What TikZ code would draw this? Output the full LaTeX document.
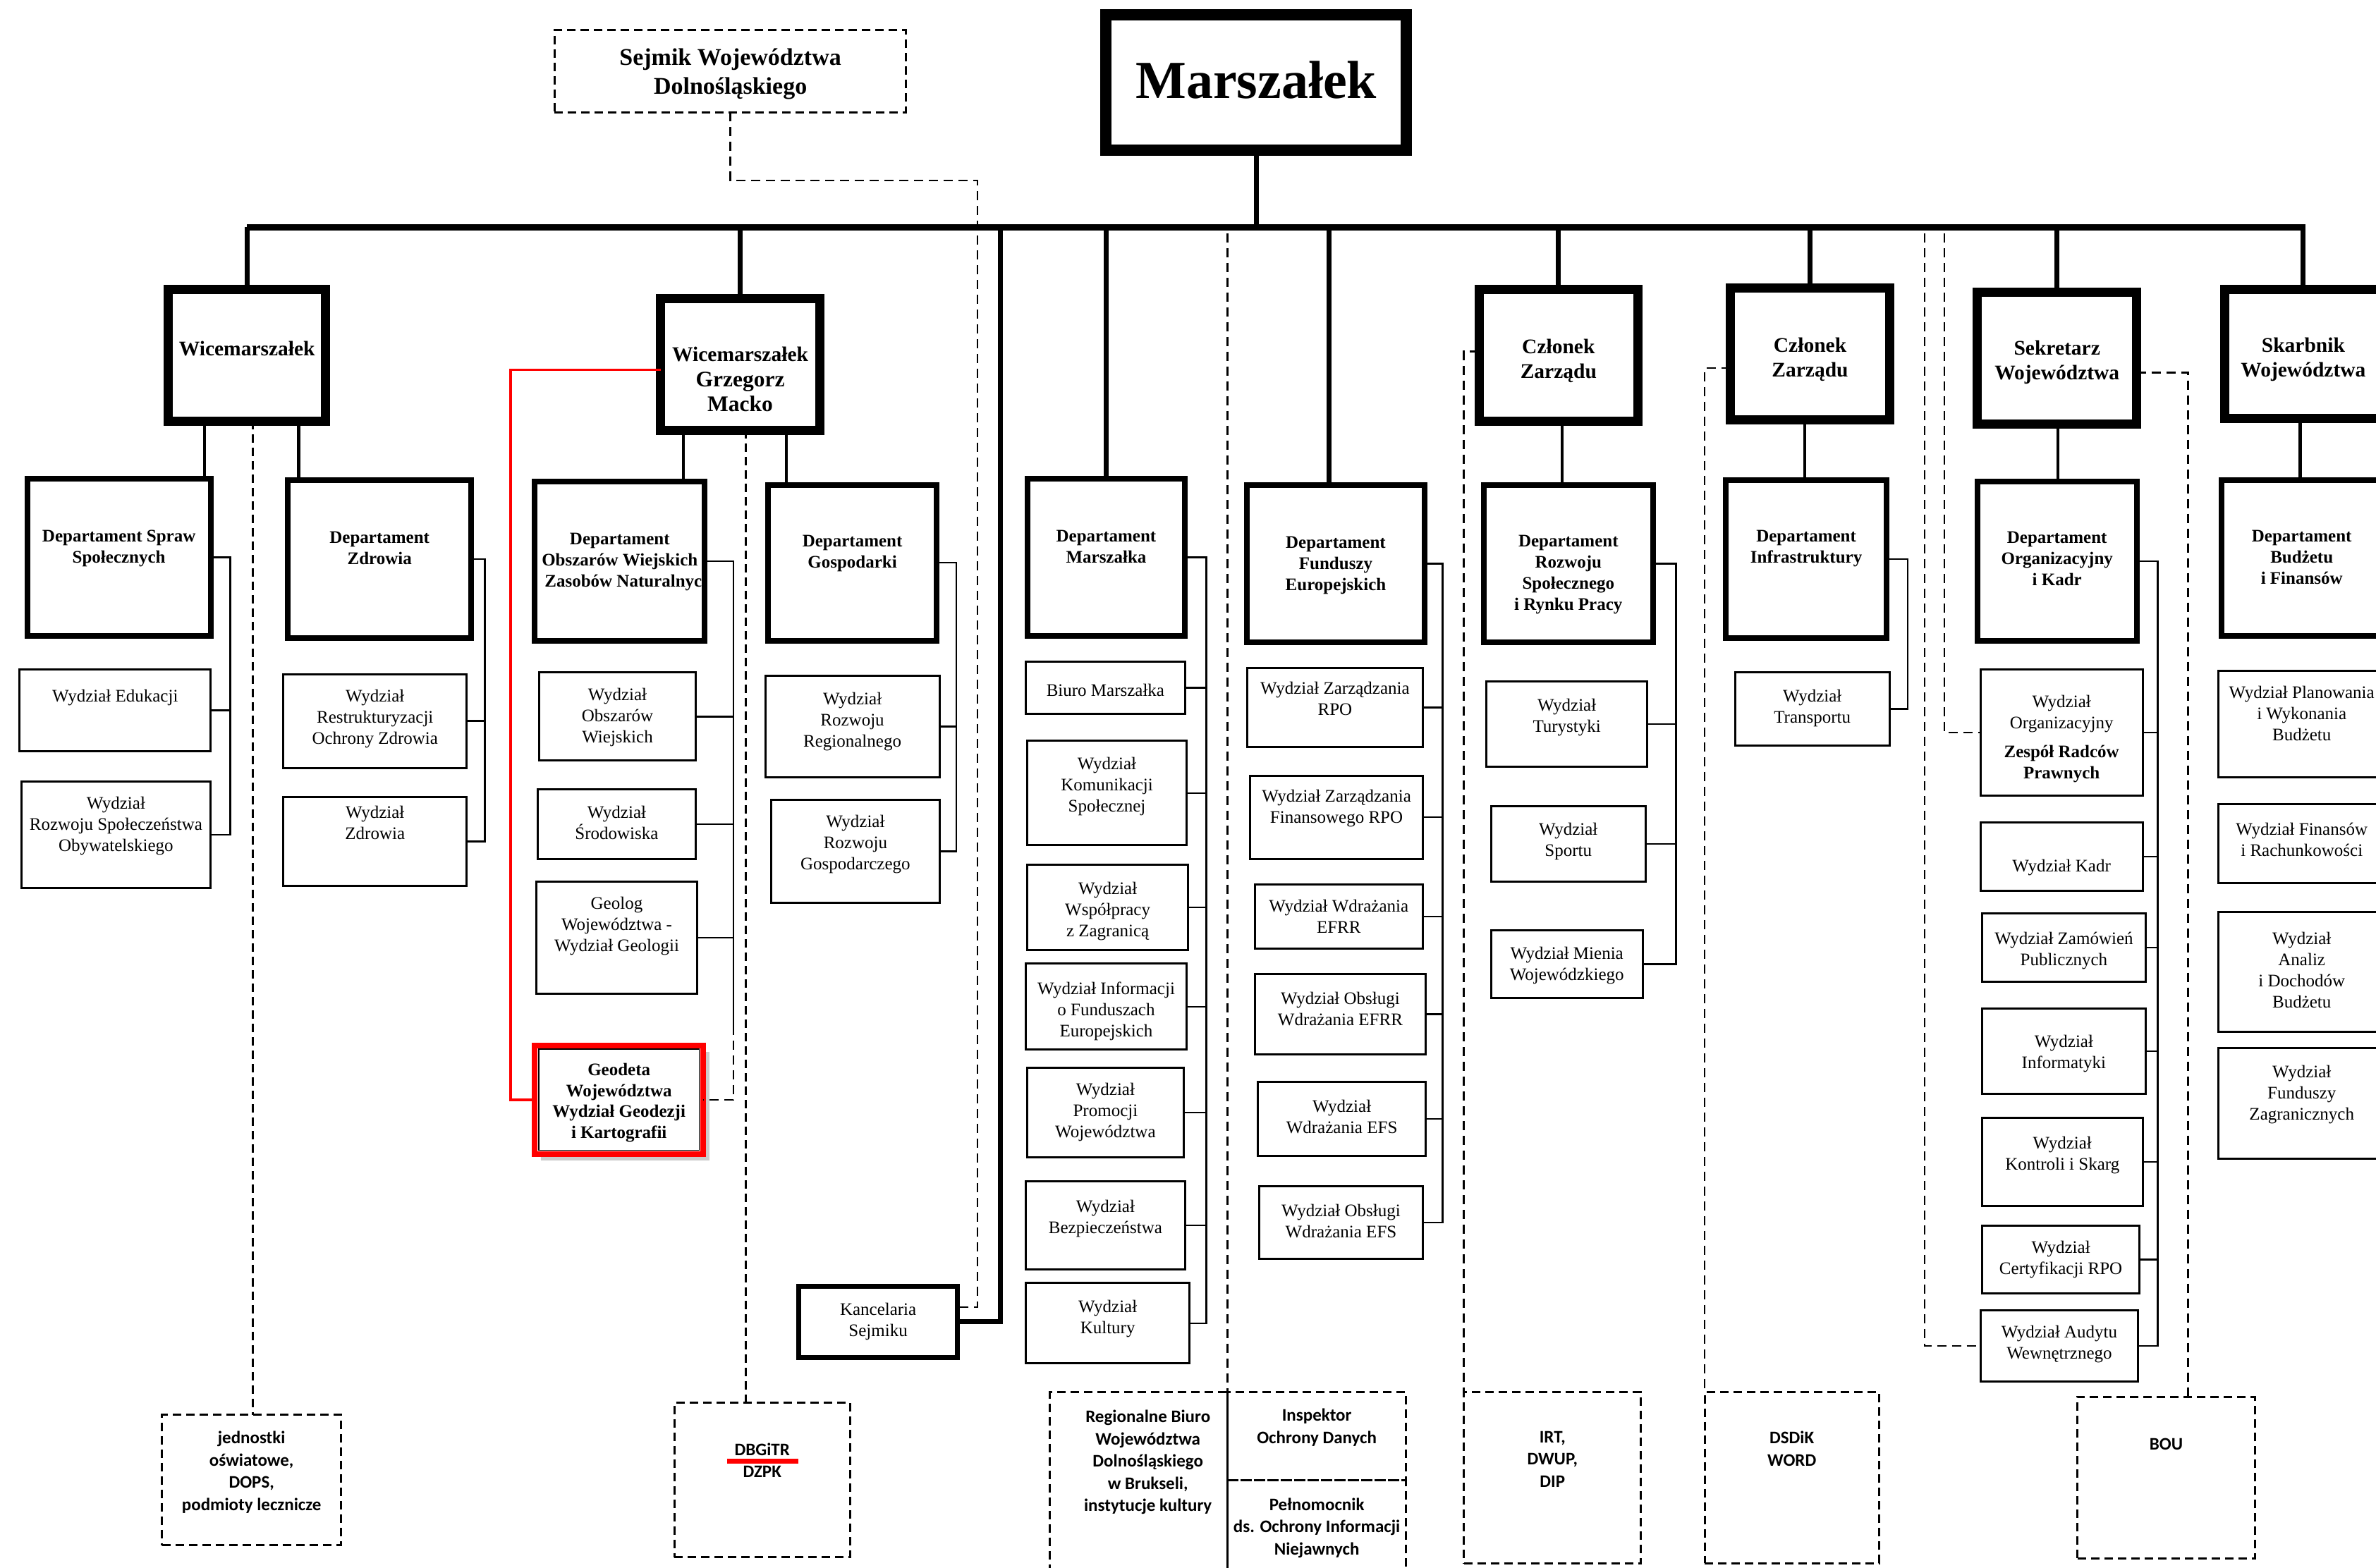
\documentclass[tikz,border=0pt]{standalone}
\usepackage{fontspec}
\setmainfont{Liberation Serif}
\newfontfamily\calfont{Carlito}
\usetikzlibrary{calc,fit,shadows}
\newcommand\sv{\rule{0pt}{.8em}}
\newcommand\obox[9]{\node[#2,fit={(#3,#4) (#5,#6)}] (#1) {};\node[#7] (#1t) at ({(#3+#5)/2},#8) {#9};}
\tikzset{
 box/.style={draw, inner sep=0pt, outer sep=0pt, fill=white},
 tlbox/.style={box, line width=13pt},
 mbox/.style={box, line width=16pt},
 depbox/.style={box, line width=8pt},
 wbox/.style={box, line width=3pt},
 kbox/.style={box, line width=7pt},
 dbox/.style={draw, inner sep=0pt, outer sep=0pt, line width=3pt, dash pattern=on 12pt off 7pt},
 geobox/.style={box, draw=red, line width=8pt, drop shadow={shadow xshift=9pt, shadow yshift=-9pt, fill=black!40}},
 txt/.style={anchor=north, inner sep=0pt, align=center, execute at begin node=\sv},
 tT/.style={txt, font=\fontsize{29.5}{34.5}\selectfont\bfseries, yshift=10.9pt},
 tSj/.style={txt, font=\fontsize{34}{41}\selectfont\bfseries, yshift=12.5pt},
 tD/.style={txt, font=\fontsize{25}{30}\selectfont\bfseries, yshift=8.5pt},
 tW/.style={txt, font=\fontsize{25}{30}\selectfont, yshift=8.5pt},
 tS/.style={txt, font=\calfont\fontsize{25}{31.5}\selectfont\bfseries, yshift=9pt},
 bus/.style={line width=9pt},
 drop/.style={line width=7pt},
 sdrop/.style={line width=4.5pt},
 conn/.style={line width=2.5pt},
 dsh/.style={line width=3pt, dash pattern=on 12pt off 7pt},
 dsh2/.style={line width=2.3pt, dash pattern=on 13pt off 8pt},
 redl/.style={red, line width=3.5pt},
}
\begin{document}
\begin{tikzpicture}[x=2.1486pt, y=-2.1486pt]
\useasboundingbox (0,0) rectangle (1568,1035);

% ---------- top ----------
\obox{sejmik}{dbox}{366}{20}{598}{74}{tSj}{38}{Sejmik Województwa\\Dolnośląskiego}
\node[mbox, fit={(730,10) (928,99)}] (marsz) {};
\node[font=\fontsize{76}{80}\selectfont\bfseries, inner sep=0pt] (marszt) at (829,53) {Marszałek};

\obox{wm1}{tlbox}{111}{191}{215}{278}{tT}{229}{Wicemarszałek}
\obox{wm2}{tlbox}{436}{197}{541}{284}{tT,font=\fontsize{31.5}{35.5}\selectfont\bfseries}{234}{{\fontsize{29.5}{35.5}\selectfont Wicemarszałek}\\Grzegorz\\Macko}
\obox{cz1}{tlbox}{976}{191}{1081}{278}{tT}{229}{Członek\\Zarządu}
\obox{cz2}{tlbox}{1142}{190}{1247}{277}{tT}{228}{Członek\\Zarządu}
\obox{sek}{tlbox}{1305}{193}{1410}{280}{tT}{230}{Sekretarz\\Województwa}
\obox{skb}{tlbox}{1468}{191}{1572}{276}{tT}{228}{Skarbnik\\Województwa}

% ---------- departments ----------
\obox{dss}{depbox}{18}{316}{139}{420}{tD}{354}{Departament Spraw\\Społecznych}
\obox{dz}{depbox}{190}{317}{311}{421}{tD}{355}{Departament\\Zdrowia}
\node[depbox, fit={(353,318) (465,423)}] (dow) {};
\begin{scope}
\clip (355.5,320) rectangle (463,421);
\node[tD] (dowt) at (409,356) {Departament\\Obszarów Wiejskich\\\hspace*{24pt}Zasobów Naturalnych};
\end{scope}
\obox{dg}{depbox}{507}{320}{618}{423}{tD}{357}{Departament\\Gospodarki}
\obox{dm}{depbox}{678}{316}{782}{420}{tD}{354}{Departament\\Marszałka}
\obox{dfe}{depbox}{823}{320}{940}{424}{tD}{358}{Departament\\Funduszy\\Europejskich}
\obox{drs}{depbox}{979}{320}{1091}{424}{tD}{357}{Departament\\Rozwoju\\Społecznego\\i Rynku Pracy}
\obox{dinf}{depbox}{1139}{317}{1245}{421}{tD}{354}{Departament\\Infrastruktury}
\obox{dok}{depbox}{1305}{318}{1410}{423}{tD}{355}{Departament\\Organizacyjny\\i Kadr}
\obox{dbf}{depbox}{1466}{317}{1572}{420}{tD}{354}{Departament\\Budżetu\\i Finansów}

% ---------- wydzialy ----------
\obox{we}{wbox}{13}{442}{139}{496}{tW}{458}{Wydział Edukacji}
\obox{wrso}{wbox}{14}{516}{139}{586}{tW}{530}{Wydział\\Rozwoju Społeczeństwa\\Obywatelskiego}
\obox{wroz}{wbox}{187}{445}{308}{507}{tW}{459}{Wydział\\Restrukturyzacji\\Ochrony Zdrowia}
\obox{wzd}{wbox}{187}{526}{308}{585}{tW}{536}{Wydział\\Zdrowia}

\obox{wow}{wbox}{356}{444}{459}{502}{tW}{458}{Wydział\\Obszarów\\Wiejskich}
\obox{wsr}{wbox}{355}{521}{459}{567}{tW}{536}{Wydział\\Środowiska}
\obox{wgeol}{wbox}{354}{582}{460}{656}{tW}{596}{Geolog\\Województwa -\\Wydział Geologii}
\node[geobox, fit={(353,690) (464,762)}] (geo) {};
\draw[line width=1.5pt] ($(geo.north west)+(2.6,2.6)$) rectangle ($(geo.south east)+(-2.6,-2.6)$);
\node[tD,font=\fontsize{25}{29.5}\selectfont\bfseries] (geot) at (408.5,706) {Geodeta\\Województwa\\Wydział Geodezji\\i Kartografii};

\obox{wrr}{wbox}{505}{446}{620}{513}{tW}{461}{Wydział\\Rozwoju\\Regionalnego}
\obox{wrg}{wbox}{509}{528}{620}{596}{tW}{542}{Wydział\\Rozwoju\\Gospodarczego}
\obox{kanc}{kbox}{527}{849}{632}{896}{tW}{864}{Kancelaria\\Sejmiku}

\obox{wbm}{wbox}{677}{437}{782}{471}{tW}{454}{Biuro Marszałka}
\obox{wks}{wbox}{678}{489}{783}{558}{tW}{504}{Wydział\\Komunikacji\\Społecznej}
\obox{wwz}{wbox}{678}{571}{784}{627}{tW}{586}{Wydział\\Współpracy\\z Zagranicą}
\obox{wife}{wbox}{677}{636}{783}{693}{tW}{652}{Wydział Informacji\\o Funduszach\\Europejskich}
\obox{wpw}{wbox}{678}{705}{781}{764}{tW}{719}{Wydział\\Promocji\\Województwa}
\obox{wb}{wbox}{677}{780}{782}{838}{tW}{796}{Wydział\\Bezpieczeństwa}
\obox{wk}{wbox}{677}{847}{785}{900}{tW}{862}{Wydział\\Kultury}

\obox{wzrpo}{wbox}{823}{441}{939}{493}{tW}{454}{Wydział Zarządzania\\RPO}
\obox{wzf}{wbox}{825}{512}{939}{567}{tW}{525}{Wydział Zarządzania\\Finansowego RPO}
\obox{wwefrr}{wbox}{828}{584}{939}{626}{tW}{598}{Wydział Wdrażania\\EFRR}
\obox{woefrr}{wbox}{828}{643}{941}{696}{tW}{659}{Wydział Obsługi\\Wdrażania EFRR}
\obox{wwefs}{wbox}{830}{714}{941}{763}{tW}{730}{Wydział\\Wdrażania EFS}
\obox{woefs}{wbox}{831}{783}{939}{831}{tW}{799}{Wydział Obsługi\\Wdrażania EFS}

\obox{wt}{wbox}{981}{450}{1087}{506}{tW}{465}{Wydział\\Turystyki}
\obox{wsp}{wbox}{984}{532}{1086}{582}{tW}{547}{Wydział\\Sportu}
\obox{wmw}{wbox}{984}{614}{1084}{659}{tW}{629}{Wydział Mienia\\Wojewódzkiego}

\obox{wtr}{wbox}{1145}{444}{1247}{492}{tW}{459}{Wydział\\Transportu}

\obox{worg}{wbox}{1307}{442}{1414}{525}{tW}{463}{Wydział\\Organizacyjny\\[11pt]{\bfseries Zespół Radców}\\{\bfseries Prawnych}}
\obox{wkadr}{wbox}{1307}{543}{1414}{588}{tW}{570}{Wydział Kadr}
\obox{wzp}{wbox}{1308}{603}{1416}{648}{tW}{619}{Wydział Zamówień\\Publicznych}
\obox{winf}{wbox}{1308}{666}{1416}{722}{tW}{687}{Wydział\\Informatyki}
\obox{wksk}{wbox}{1308}{738}{1414}{796}{tW}{754}{Wydział\\Kontroli i Skarg}
\obox{wcrpo}{wbox}{1308}{809}{1412}{854}{tW}{823}{Wydział\\Certyfikacji RPO}
\obox{waw}{wbox}{1307}{865}{1411}{912}{tW}{879}{Wydział Audytu\\Wewnętrznego}

\obox{wpwb}{wbox}{1464}{443}{1574}{513}{tW}{457}{Wydział Planowania\\i Wykonania\\Budżetu}
\obox{wfr}{wbox}{1464}{531}{1574}{583}{tW}{547}{Wydział Finansów\\i Rachunkowości}
\obox{wadb}{wbox}{1464}{602}{1574}{681}{tW}{619}{Wydział\\Analiz\\i Dochodów\\Budżetu}
\obox{wfz}{wbox}{1464}{692}{1574}{765}{tW}{707}{Wydział\\Funduszy\\Zagranicznych}

% ---------- dashed bottom boxes ----------
\obox{jedn}{dbox}{107}{934}{225}{1020}{tS}{949}{jednostki\\oświatowe,\\DOPS,\\podmioty lecznicze}
\obox{dbg}{dbox}{445}{926}{561}{1028}{tS,font=\calfont\fontsize{25}{30.5}\selectfont\bfseries}{957}{DBGiTR\\DZPK}
\draw[red, line width=6.5pt] (480,964.5) -- (527,964.5);
\obox{rbw}{dbox}{693}{919}{810}{1040}{tS,xshift=13pt}{935}{Regionalne Biuro\\Województwa\\Dolnośląskiego\\w Brukseli,\\instytucje kultury}
\obox{iod}{dbox}{810}{919}{928}{977}{tS}{934}{Inspektor\\Ochrony Danych}
\obox{pel}{dbox}{810}{977}{928}{1040}{tS}{993}{Pełnomocnik\\ds. Ochrony Informacji\\Niejawnych}
\obox{irt}{dbox}{966}{919}{1083}{1032}{tS}{949}{IRT,\\DWUP,\\DIP}
\obox{dsd}{dbox}{1125}{919}{1240}{1032}{tS}{949}{DSDiK\\WORD}
\obox{bou}{dbox}{1371}{922}{1488}{1029}{tS}{952}{BOU}

% ---------- coordinates ----------
\coordinate (busL) at (163,150);
\coordinate (busR) at (1521.5,150);
\coordinate (b660) at (660,150);
\coordinate (b877) at (877,150);
\coordinate (b810) at (810,154);
\coordinate (b1270) at (1270,154);
\coordinate (b1283) at (1283,154);
\foreach \n/\v in {x135/135,x197/197,x451/451,x519/519,x1031/1031,x1191/1191,x1358/1358,x1518/1518,x167/167,x492/492,S1/152,S2/320,S4/631,S5/796,S6/952,S7/1106,S8/1259,S9/1424}
  \coordinate (\n) at (\v,0);
\coordinate (S3e) at (484,677);
\coordinate (sj) at (645,119);
\coordinate (ky) at (0,863);
\coordinate (rc) at (337,244);
\coordinate (c1) at (966,232);
\coordinate (c2) at (1125,243);
\coordinate (sk) at (1444,246);

% ---------- main bus ----------
\draw[bus] (busL) -- (busR);
\draw[drop] (marsz.south) -- (marsz.south |- busL);
\foreach \n in {wm1,wm2,cz1,cz2,sek,skb,dm}
  \draw[drop] (\n.north) -- (\n.north |- busL);
\draw[drop] (dfe.north -| b877) -- (b877);
\draw[drop] (b660) |- (kanc.east);

% ---------- top-level to departments ----------
\draw[sdrop] (wm1.south -| x135) -- (dss.north -| x135);
\draw[sdrop] (wm1.south -| x197) -- (dz.north -| x197);
\draw[sdrop] (wm2.south -| x451) -- (dow.north -| x451);
\draw[sdrop] (wm2.south -| x519) -- (dg.north -| x519);
\draw[sdrop] (cz1.south -| x1031) -- (drs.north -| x1031);
\draw[sdrop] (cz2.south -| x1191) -- (dinf.north -| x1191);
\draw[sdrop] (sek.south -| x1358) -- (dok.north -| x1358);
\draw[sdrop] (skb.south -| x1518) -- (dbf.north -| x1518);

% ---------- spines ----------
\draw[conn] (dss.east) -| (S1 |- wrso.east) -- (wrso.east);
\draw[conn] (we.east) -- (we.east -| S1);
\draw[conn] (dz.east) -| (S2 |- wzd.east) -- (wzd.east);
\draw[conn] (wroz.east) -- (wroz.east -| S2);
\draw[conn] (dow.east) -| (S3e);
\foreach \c in {wow,wsr,wgeol} \draw[conn] (\c.east) -- (\c.east -| S3e);
\draw[dsh2] (S3e) |- (geo.east);
\draw[conn] (dg.east) -| (S4 |- wrg.east) -- (wrg.east);
\draw[conn] (wrr.east) -- (wrr.east -| S4);
\draw[conn] (dm.east) -| (S5 |- wk.east) -- (wk.east);
\foreach \c in {wbm,wks,wwz,wife,wpw,wb} \draw[conn] (\c.east) -- (\c.east -| S5);
\draw[conn] (dfe.east) -| (S6 |- woefs.east) -- (woefs.east);
\foreach \c in {wzrpo,wzf,wwefrr,woefrr,wwefs} \draw[conn] (\c.east) -- (\c.east -| S6);
\draw[conn] (drs.east) -| (S7 |- wmw.east) -- (wmw.east);
\foreach \c in {wt,wsp} \draw[conn] (\c.east) -- (\c.east -| S7);
\draw[conn] (dinf.east) -| (S8 |- wtr.east) -- (wtr.east);
\draw[conn] (dok.east) -| (S9 |- waw.east) -- (waw.east);
\foreach \c in {worg,wkadr,wzp,winf,wksk,wcrpo} \draw[conn] (\c.east) -- (\c.east -| S9);

% ---------- dashed relations ----------
\draw[dsh2] (sejmik.south) |- (sj) -- (sj |- ky) -- (kanc.east |- ky);
\draw[dsh] (wm1.south -| x167) -- (jedn.north -| x167);
\draw[dsh] (wm2.south -| x492) -- (dbg.north -| x492);
\draw[dsh2] (b810) -- (iod.north west);
\draw[dsh2] (cz1.west |- c1) -- (c1) -- (irt.north west);
\draw[dsh2] (cz2.west |- c2) -- (c2) -- (dsd.north west);
\draw[dsh2] (sek.east |- sk) -- (sk) -- (sk |- bou.north);
\draw[dsh2] (b1283) |- (worg.west);
\draw[dsh2] (b1270) |- (waw.west);

% ---------- red link ----------
\draw[redl] (wm2.west |- rc) -- (rc) |- (geo.west);
\end{tikzpicture}
\end{document}
